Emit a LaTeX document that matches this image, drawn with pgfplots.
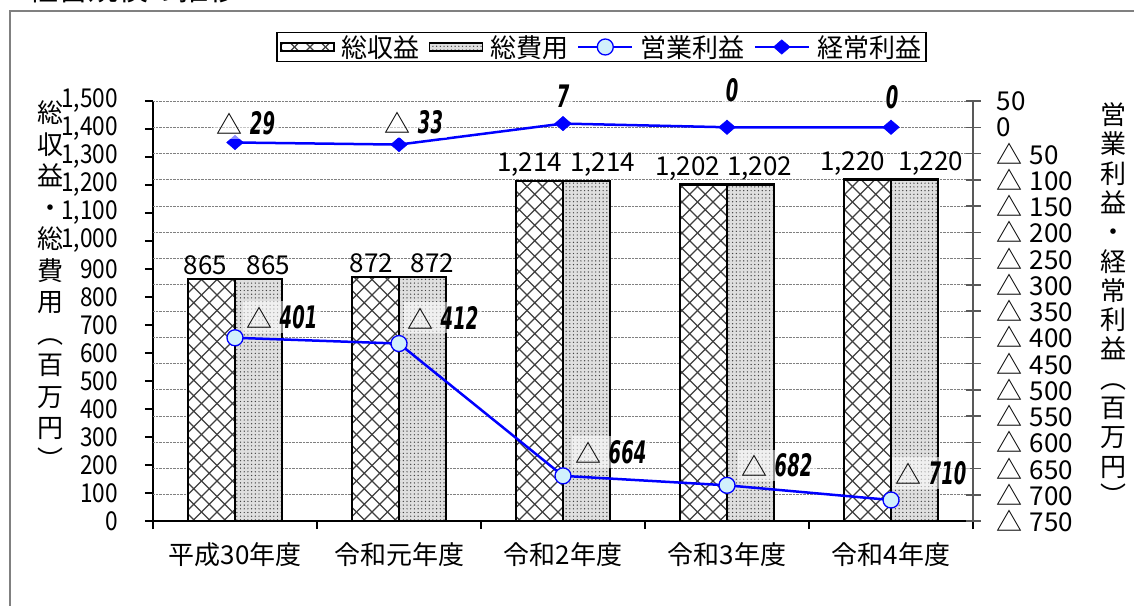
\documentclass[border=0pt]{standalone}
\usepackage{fontspec}
\setmainfont{Noto Sans CJK JP}
\newfontfamily\numfont[FakeStretch=0.87]{Noto Sans CJK JP}
\newfontfamily\valfont[FakeStretch=0.58]{DejaVu Sans}
\usepackage{pgfplots}
\usepackage{pgfplotstable}
\pgfplotsset{compat=1.18}
\usetikzlibrary{patterns}

% diagonal cross hatching for total revenue
\pgfdeclarepatternformonly{diagcross}{\pgfqpoint{-1pt}{-1pt}}{\pgfqpoint{16.5pt}{16.5pt}}{\pgfqpoint{15.5pt}{15.5pt}}{%
  \pgfsetlinewidth{1.3pt}%
  \pgfpathmoveto{\pgfqpoint{0pt}{0pt}}\pgfpathlineto{\pgfqpoint{15.5pt}{15.5pt}}%
  \pgfpathmoveto{\pgfqpoint{0pt}{15.5pt}}\pgfpathlineto{\pgfqpoint{15.5pt}{0pt}}%
  \pgfusepath{stroke}}
% fine dot screen for total expenses
\pgfdeclarepatternformonly{finedots}{\pgfqpoint{-1pt}{-1pt}}{\pgfqpoint{1pt}{1pt}}{\pgfqpoint{3.7pt}{3.7pt}}{%
  \pgfpathcircle{\pgfqpoint{0pt}{0pt}}{0.7pt}\pgfusepath{fill}}

\newcommand\tri{△\hspace{7pt}}
\newcommand\valtext[1]{{\valfont\bfseries\itshape\fontsize{31}{32}\selectfont #1}}
\newcommand\vlabel[1]{\pgfmathtruncatemacro\vv{#1}%
  \ifnum\vv<0 \tri\valtext{\number-\vv}\else\valtext{\vv}\fi}

\pgfplotsset{
  /pgf/number format/assume math mode=true,
  /pgf/number format/1000 sep={,},
  lineleg/.style={legend image code/.code={\draw[mark repeat=2, mark phase=2, ##1]
    plot coordinates {(0pt,0pt) (27pt,0pt) (54pt,0pt)};}},
  hatchleg/.style={legend image code/.code={\path[fill=white, draw=black, line width=1.5pt,
    postaction={pattern=diagcross, pattern color=black!75}] (0pt,-4pt) rectangle (53pt,4pt);}},
  dotleg/.style={legend image code/.code={\path[fill=gray!25, draw=black, line width=1.5pt,
    postaction={pattern=finedots, pattern color=black!75}] (0pt,-4pt) rectangle (53pt,4pt);}},
  proflabel/.style={
    point meta=explicit symbolic,
    nodes near coords={\vlabel{\pgfplotspointmeta}},
    visualization depends on={\thisrow{dx}\as\dxv},
    visualization depends on={\thisrow{dy}\as\dyv},
    every node near coord/.append style={anchor=center, text=black,
      font=\fontsize{26}{28}\selectfont, fill=white, fill opacity=0.55, text opacity=1,
      inner sep=4pt, xshift=\dxv pt, yshift=\dyv pt}},
}

% total revenue / total expenses (million yen), label shifts
\pgfplotstableread{
x rev  cost ls  rs
0 865  865  -6  10
1 872  872  -4  10
2 1214 1214 -10 16
3 1202 1202 -16 9
4 1220 1220 -15 16
}\scaletable

% operating profit (million yen)
\pgfplotstableread{
x y    dx dy
0 -401 47 21
1 -412 44 26
2 -664 48 24
3 -682 50 20
4 -710 40 27
}\optable

% ordinary profit (million yen)
\pgfplotstableread{
x y   dx dy
0 -29 11 19
1 -33 15 22
2 7   0  27
3 0   5  37
4 0   1  30
}\ordtable

\begin{document}
\begin{tikzpicture}
\path[use as bounding box] (0,0) rectangle (1134pt,-605pt);
\draw[gray, line width=2pt] (10pt,-10.5pt) rectangle (1150pt,-620pt);
\node[anchor=base west, font=\fontsize{30}{30}\selectfont] at (25pt,-1pt) {経営規模の推移};

\begin{axis}[
  at={(153pt,-521pt)}, anchor=south west,
  scale only axis, width=820pt, height=420pt,
  xmin=-0.5, xmax=4.5, ymin=0, ymax=1500,
  axis x line*=bottom, axis y line*=left,
  axis line style={black, line width=1.5pt, -},
  tick align=outside,
  tick style={black, line width=1.5pt},
  major tick length=8pt,
  xtick={-0.5,0.5,1.5,2.5,3.5,4.5},
  xticklabels={平成30年度,令和元年度,令和2年度,令和3年度,令和4年度},
  x tick label as interval,
  ytick={0,100,...,1500},
  extra y ticks={93.75,187.5,281.25,375,468.75,562.5,656.25,750,843.75,937.5,1031.25,1125,1218.75,1312.5,1406.25,1500},
  extra y tick labels={},
  extra y tick style={grid=major, major tick length=0pt},
  major grid style={densely dotted, gray, line width=0.9pt},
  ticklabel style={font=\fontsize{26}{28}\selectfont, inner sep=2pt},
  yticklabel style={font=\numfont\fontsize{26}{28}\selectfont, xshift=-25pt},
  xticklabel style={yshift=-11pt},
]
% white ground under the hatched bars
\addplot[ybar, bar width=47pt, bar shift=-23.5pt, draw=none, fill=white]
  table[x=x, y=rev]{\scaletable};
\addplot[ybar, bar width=47pt, bar shift=-23.5pt, draw=black, line width=2.5pt,
  pattern=diagcross, pattern color=black!75,
  nodes near coords,
  visualization depends on={\thisrow{ls}\as\lsx},
  every node near coord/.append style={text=black, font=\fontsize{26}{28}\selectfont,
    inner sep=3pt, xshift={\lsx pt-23.5pt}}]
  table[x=x, y=rev]{\scaletable};
% grey ground under the dotted bars
\addplot[ybar, bar width=47pt, bar shift=23.5pt, draw=none, fill=gray!25]
  table[x=x, y=cost]{\scaletable};
\addplot[ybar, bar width=47pt, bar shift=23.5pt, draw=black, line width=2.5pt,
  pattern=finedots, pattern color=black!75,
  nodes near coords,
  visualization depends on={\thisrow{rs}\as\rsx},
  every node near coord/.append style={text=black, font=\fontsize{26}{28}\selectfont,
    inner sep=3pt, xshift={\rsx pt+23.5pt}}]
  table[x=x, y=cost]{\scaletable};
\end{axis}

\begin{axis}[
  at={(153pt,-521pt)}, anchor=south west,
  scale only axis, width=820pt, height=420pt,
  xmin=-0.5, xmax=4.5, ymin=-750, ymax=50,
  axis x line=none, axis y line*=right,
  axis line style={gray!70!black, line width=1.5pt, -},
  clip=false,
  tick align=center,
  tick style={gray!70!black, line width=1.5pt},
  major tick length=15pt,
  ytick={-750,-700,...,50},
  yticklabels={\tri 750,\tri 700,\tri 650,\tri 600,\tri 550,\tri 500,\tri 450,\tri 400,\tri 350,\tri 300,\tri 250,\tri 200,\tri 150,\tri 100,\tri 50,0,50},
  yticklabel style={font=\fontsize{26}{28}\selectfont, inner sep=2pt, anchor=west, xshift=14pt},
  legend columns=4,
  legend style={at={(0.547,1.1286)}, anchor=center, draw=black, line width=1.2pt,
    fill=white, font=\fontsize{26}{28}\selectfont,
    inner xsep=3pt, inner ysep=1pt,
    nodes={inner sep=2pt},
    /tikz/every odd column/.append style={column sep=5pt},
    /tikz/every even column/.append style={column sep=7pt}},
]
\addlegendimage{hatchleg}
\addlegendentry{総収益}
\addlegendimage{dotleg}
\addlegendentry{総費用}

\addplot[blue, line width=2.5pt, mark=*, mark size=8pt,
  mark options={fill=cyan!18, draw=blue, line width=1.3pt},
  lineleg, proflabel]
  table[x=x, y=y, meta=y]{\optable};
\addlegendentry{営業利益}

\addplot[blue, line width=2.5pt, mark=diamond*, mark size=7.2pt,
  mark options={fill=blue, draw=blue, line width=0.5pt, xscale=1.54},
  lineleg, proflabel]
  table[x=x, y=y, meta=y]{\ordtable};
\addlegendentry{経常利益}
\end{axis}

% stacked vertical axis titles
\node[align=center, font=\fontsize{26}{31.5}\selectfont] at (50pt,-285pt)
  {総\\収\\益\\・\\総\\費\\用\\︵\\百\\万\\円\\︶};
\node[align=center, font=\fontsize{26}{29.3}\selectfont] at (1113pt,-304pt)
  {営\\業\\利\\益\\・\\経\\常\\利\\益\\︵\\百\\万\\円\\︶};
\end{tikzpicture}
\end{document}
